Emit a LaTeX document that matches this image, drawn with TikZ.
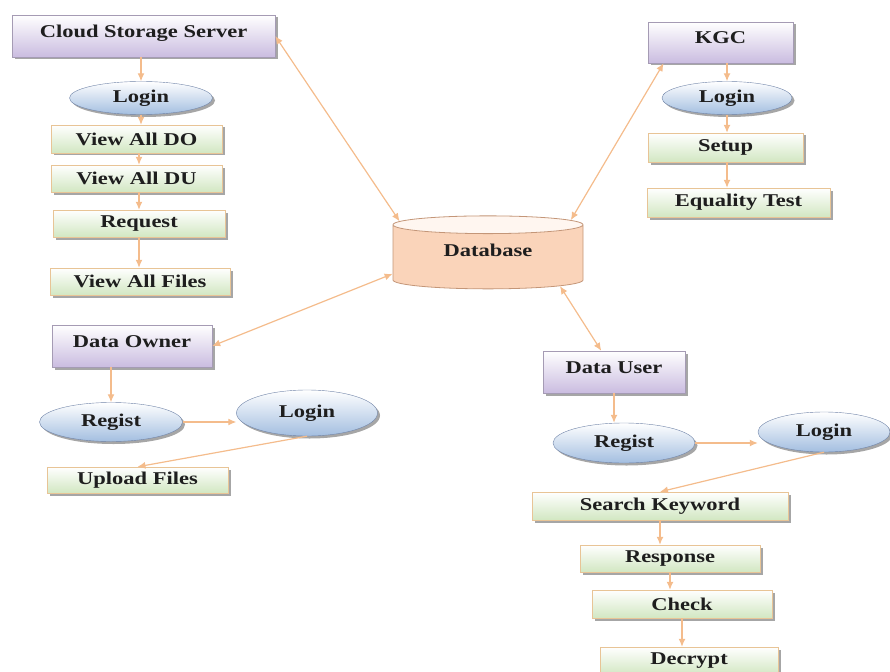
\documentclass[tikz,border=0pt]{standalone}
\usepackage{fontspec}
\setmainfont{Liberation Serif}[FakeStretch=1.25]
\usetikzlibrary{shapes.geometric,shadows,arrows.meta}
\definecolor{arrc}{RGB}{244,188,140}
\definecolor{srvfill}{RGB}{202,188,224}
\definecolor{srvline}{RGB}{165,155,180}
\definecolor{actfill}{RGB}{210,231,194}
\definecolor{actline}{RGB}{232,196,150}
\definecolor{logfill}{RGB}{163,190,224}
\definecolor{logline}{RGB}{112,132,168}
\definecolor{dbfill}{RGB}{250,212,186}
\definecolor{dbtop}{RGB}{255,246,240}
\definecolor{dbline}{RGB}{196,150,120}
\definecolor{txt}{RGB}{30,30,30}
\tikzset{
  box/.style={rectangle,inner sep=0pt,text=txt,drop shadow={shadow xshift=2.5pt,shadow yshift=-2.5pt,fill=black,opacity=0.35}},
  srv/.style={box,draw=srvline,top color=white,bottom color=srvfill,text height=13pt,text depth=10pt},
  act/.style={box,draw=actline,top color=white,bottom color=actfill},
  log/.style={box,ellipse,draw=logline,top color=white,bottom color=logfill},
  store/.style={cylinder,shape border rotate=90,aspect=0.2,inner sep=0pt,text=txt,draw=dbline,line width=0.8pt,
    text height=13pt,text depth=14pt,cylinder uses custom fill,cylinder body fill=dbfill,cylinder end fill=dbtop},
  arr/.style={draw=arrc,line width=1.2pt,-{Latex[length=8pt,width=7pt]}},
  darr/.style={draw=arrc,line width=1.2pt,{Latex[length=8pt,width=7pt]}-{Latex[length=8pt,width=7pt]}},
}
\begin{document}
\begin{tikzpicture}[x=1pt,y=-1pt,font=\fontsize{18}{20}\selectfont\bfseries]
\useasboundingbox(0,0)rectangle(890,671);
\node[srv,minimum width=263pt,minimum height=42pt](css)at(143.5,36){Cloud Storage Server};
\node[log,minimum width=143pt,minimum height=33pt](cssLogin)at(141,98){Login};
\node[act,minimum width=171pt,minimum height=28pt](vdo)at(136.5,139){View All DO};
\node[act,minimum width=171pt,minimum height=27pt](vdu)at(136.5,178.5){View All DU};
\node[act,minimum width=172pt,minimum height=27pt](req)at(139,223.5){Request};
\node[act,minimum width=180pt,minimum height=27pt](vfiles)at(140,281.5){View All Files};
\node[srv,minimum width=160pt,minimum height=42pt](dow)at(132,346){Data Owner};
\node[log,minimum width=143pt,minimum height=39pt](doReg)at(111,422){Regist};
\node[log,minimum width=141pt,minimum height=46pt](doLogin)at(307,413){Login};
\node[act,minimum width=181pt,minimum height=26pt](upl)at(137.5,480){Upload Files};
\node[store,minimum width=190pt,minimum height=73pt](db)at(488,257){Database};
\node[srv,minimum width=145pt,minimum height=41pt](kgc)at(720.5,42.5){KGC};
\node[log,minimum width=130pt,minimum height=33pt](kgcLogin)at(727,98){Login};
\node[act,minimum width=155pt,minimum height=29pt](setup)at(725.5,147.5){Setup};
\node[act,minimum width=183pt,minimum height=29pt](eqt)at(738.5,202.5){Equality Test};
\node[srv,minimum width=142pt,minimum height=42pt](du)at(614,372){Data User};
\node[log,minimum width=142pt,minimum height=40pt](duReg)at(624,443){Regist};
\node[log,minimum width=132pt,minimum height=40pt](duLogin)at(824,432){Login};
\node[act,minimum width=256pt,minimum height=28pt](skw)at(660,506){Search Keyword};
\node[act,minimum width=180pt,minimum height=27pt](resp)at(670,558.5){Response};
\node[act,minimum width=180pt,minimum height=28pt](chk)at(682,604){Check};
\node[act,minimum width=178pt,minimum height=28pt](dec)at(689,661){Decrypt};
\draw[darr](css.east)--(db.158);
\draw[darr](kgc.200)--(db.24);
\draw[darr](dow.east)--(db.190);
\draw[darr](du.121)--(db.-22);
\draw[arr](cssLogin.north|-css.south)--(cssLogin.north);
\draw[arr](cssLogin.south)--(cssLogin.south|-vdo.north);
\draw[arr](req.north|-vdo.south)--(req.north|-vdu.north);
\draw[arr](req.north|-vdu.south)--(req.north);
\draw[arr](req.south)--(req.south|-vfiles.north);
\draw[arr](dow.south-|doReg)--(doReg.north);
\draw[arr](doReg.east)--(doReg.east-|doLogin.west);
\draw[arr](doLogin.south)--(upl.north);
\draw[arr](kgcLogin.north|-kgc.south)--(kgcLogin.north);
\draw[arr](kgcLogin.south)--(kgcLogin.south|-setup.north);
\draw[arr](kgcLogin.south|-setup.south)--(kgcLogin.south|-eqt.north);
\draw[arr](du.south)--(du.south|-duReg.north);
\draw[arr](duReg.east)--(duReg.east-|duLogin.west);
\draw[arr](duLogin.south)--(skw.north);
\draw[arr](skw.south)--(skw.south|-resp.north);
\draw[arr](resp.south)--(resp.south|-chk.north);
\draw[arr](chk.south)--(chk.south|-dec.north);
\end{tikzpicture}
\end{document}
